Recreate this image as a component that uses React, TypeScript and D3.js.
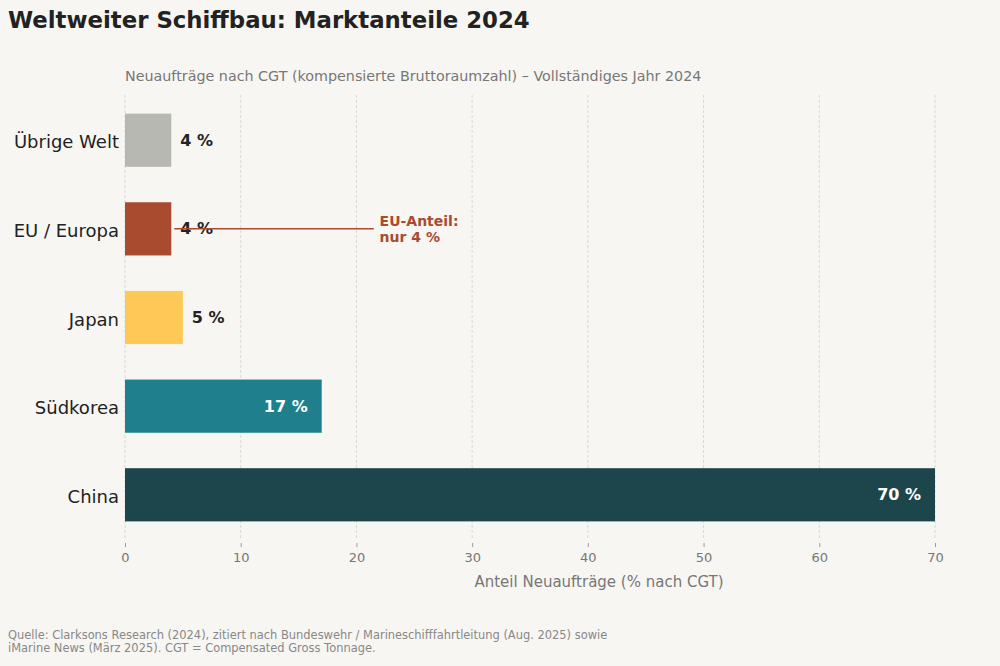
import { useEffect, useRef } from 'react';
import * as d3 from 'd3';

// Marktanteile Neuaufträge 2024 (% nach CGT)
const categories = ['Übrige Welt', 'EU / Europa', 'Japan', 'Südkorea', 'China'];
const shares = [4, 4, 5, 17, 70];
const barColors = ['#b8b8b3', '#a84b2f', '#ffc857', '#1f7f8c', '#1c464c'];
const xTicks = [0, 10, 20, 30, 40, 50, 60, 70];
const footnoteLines = [
  'Quelle: Clarksons Research (2024), zitiert nach Bundeswehr / Marineschifffahrtleitung (Aug. 2025) sowie',
  'iMarine News (März 2025). CGT = Compensated Gross Tonnage.',
];

const FONT = 'DejaVu Sans, sans-serif';

const App = () => {
  const svgRef = useRef<SVGSVGElement>(null);

  useEffect(() => {
    const width = 1000;
    const height = 666;
    const svg = d3.select(svgRef.current)
      .attr('width', width)
      .attr('height', height);
    svg.selectAll('*').remove();

    svg.append('rect')
      .attr('width', width)
      .attr('height', height)
      .attr('fill', '#f7f6f2');

    // Scales
    const x = d3.scaleLinear().domain([0, 70]).range([125, 935]);
    const y = d3.scaleBand()
      .domain(categories)
      .range([95, 540])
      .paddingInner(0.4)
      .paddingOuter(0.21);

    // Title + subtitle
    svg.append('text')
      .attr('x', 8)
      .attr('y', 28)
      .attr('font-family', FONT)
      .attr('font-weight', 'bold')
      .attr('font-size', 22.8)
      .attr('fill', '#222')
      .text('Weltweiter Schiffbau: Marktanteile 2024');

    svg.append('text')
      .attr('x', 125)
      .attr('y', 81)
      .attr('font-family', FONT)
      .attr('font-size', 14.3)
      .attr('fill', '#777')
      .text('Neuaufträge nach CGT (kompensierte Bruttoraumzahl) – Vollständiges Jahr 2024');

    // Grid lines
    svg.append('g')
      .selectAll('line')
      .data(xTicks)
      .join('line')
      .attr('x1', d => x(d))
      .attr('x2', d => x(d))
      .attr('y1', 95)
      .attr('y2', 540)
      .attr('stroke', '#d0d0cc')
      .attr('stroke-width', 0.8)
      .attr('stroke-dasharray', '3,2');

    // X axis
    const axis = svg.append('g')
      .attr('transform', 'translate(0,543)')
      .call(d3.axisBottom(x).tickValues(xTicks).tickSize(4).tickPadding(6));
    axis.select('.domain').remove();
    axis.selectAll('.tick line').attr('stroke', '#999');
    axis.selectAll('.tick text')
      .attr('font-family', FONT)
      .attr('font-size', 13)
      .attr('fill', '#777');

    svg.append('text')
      .attr('x', 599)
      .attr('y', 587)
      .attr('text-anchor', 'middle')
      .attr('font-family', FONT)
      .attr('font-size', 15)
      .attr('fill', '#777')
      .text('Anteil Neuaufträge (% nach CGT)');

    // Category labels
    svg.append('g')
      .selectAll('text')
      .data(categories)
      .join('text')
      .attr('x', 119)
      .attr('y', d => y(d)! + y.bandwidth() / 2)
      .attr('dy', '0.45em')
      .attr('text-anchor', 'end')
      .attr('font-family', FONT)
      .attr('font-size', 18)
      .attr('fill', '#222')
      .text(d => d);

    // Bars
    svg.append('g')
      .selectAll('rect')
      .data(categories)
      .join('rect')
      .attr('x', x(0))
      .attr('y', d => y(d)!)
      .attr('width', (d, i) => x(shares[i]) - x(0))
      .attr('height', y.bandwidth())
      .attr('fill', (d, i) => barColors[i]);

    // Value labels
    svg.append('g')
      .selectAll('text')
      .data(categories)
      .join('text')
      .attr('x', (d, i) => shares[i] > 10 ? x(shares[i]) - 14 : x(shares[i]) + 9)
      .attr('y', d => y(d)! + y.bandwidth() / 2)
      .attr('dy', '0.35em')
      .attr('text-anchor', (d, i) => shares[i] > 10 ? 'end' : 'start')
      .attr('font-family', FONT)
      .attr('font-weight', 'bold')
      .attr('font-size', 16)
      .attr('fill', (d, i) => shares[i] > 10 ? '#fff' : '#222')
      .text((d, i) => `${shares[i]} %`);

    // EU annotation
    const euY = y('EU / Europa')! + y.bandwidth() / 2;
    svg.append('line')
      .attr('x1', x(4) + 3)
      .attr('x2', x(21.5))
      .attr('y1', euY)
      .attr('y2', euY)
      .attr('stroke', '#a84b2f')
      .attr('stroke-width', 1.5);
    const ann = svg.append('text')
      .attr('x', x(22))
      .attr('y', euY - 3)
      .attr('font-family', FONT)
      .attr('font-weight', 'bold')
      .attr('font-size', 14)
      .attr('fill', '#a84b2f');
    ann.append('tspan').attr('x', x(22)).text('EU-Anteil:');
    ann.append('tspan').attr('x', x(22)).attr('dy', 16).text('nur 4 %');

    // Footnote
    svg.append('g')
      .selectAll('text')
      .data(footnoteLines)
      .join('text')
      .attr('x', 8)
      .attr('y', (d, i) => 639 + i * 12.5)
      .attr('font-family', FONT)
      .attr('font-size', 11.45)
      .attr('fill', '#888')
      .text(d => d);

    return () => {
      d3.select(svgRef.current).selectAll('*').remove();
    };
  }, []);

  return <svg ref={svgRef} style={{ position: 'absolute', left: 0, top: 0, display: 'block' }}></svg>;
};

export default App;
